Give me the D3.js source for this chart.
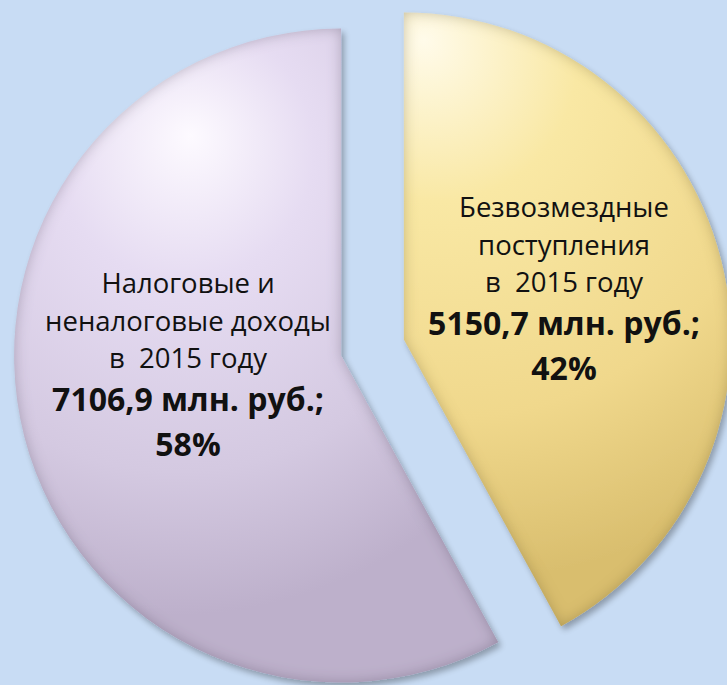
<!DOCTYPE html>
<html><head><meta charset="utf-8">
<script src="https://cdn.jsdelivr.net/npm/d3@7"></script>
<style>
html,body{margin:0;padding:0;background:#c8dcf4;}
svg{display:block;}
</style></head>
<body>
<svg id="chart" width="727" height="685"></svg>
<script>
// ---- data ----
const categories = ["Безвозмездные поступления", "Налоговые и неналоговые доходы"];
const values = [5150.7, 7106.9];
const percents = ["42%", "58%"];
const labelLines = [
  ["Безвозмездные", "поступления", "в  2015 году"],
  ["Налоговые и", "неналоговые доходы", "в  2015 году"]
];
const amountLabels = ["5150,7 млн. руб.;", "7106,9 млн. руб.;"];

// ---- layout ----
const W = 727, H = 685;
const cx = 372.5, cy = 347.5, R = 327, explode = 32.4;
const labelPos = [[564, 217], [188, 293]]; // first baseline of each label
const themes = [
  {hi:"#fffbea", mid:"#f9e8a4", lo:"#f0d88c", edge:"#d9be6e", rim:"#6f5d22"},
  {hi:"#fdfaff", mid:"#e6dcf2", lo:"#d4c9e1", edge:"#bdb0cb", rim:"#4a3e5c"}
];
// gradient focus relative to slice apex (local coords)
const gradGeo = [
  {cx: 60, cy: -230, fx: 20, fy: -300, r: 470},
  {cx: -170, cy: -170, fx: -150, fy: -220, r: 430}
];

const svg = d3.select("#chart");
const defs = svg.append("defs");

// drop shadow
const ds = defs.append("filter").attr("id","shadow").attr("x","-10%").attr("y","-10%").attr("width","130%").attr("height","130%");
ds.append("feGaussianBlur").attr("in","SourceAlpha").attr("stdDeviation",3).attr("result","b");
ds.append("feOffset").attr("in","b").attr("dx",3).attr("dy",4).attr("result","o");
ds.append("feComponentTransfer").attr("in","o").attr("result","s")
  .append("feFuncA").attr("type","linear").attr("slope",0.3);
const dm = ds.append("feMerge");
dm.append("feMergeNode").attr("in","s");
dm.append("feMergeNode").attr("in","SourceGraphic");

const pie = d3.pie().sort(null).value(d => d).startAngle(0).endAngle(2*Math.PI);
const arcs = pie(values);
const arc = d3.arc().innerRadius(0).outerRadius(R);

arcs.forEach((a, i) => {
  const th = themes[i], gg = gradGeo[i];
  const mid = (a.startAngle + a.endAngle) / 2;
  const ox = cx + explode * Math.sin(mid), oy = cy - explode * Math.cos(mid);

  // inner shadow (bevel rim) filter per slice
  const f = defs.append("filter").attr("id","inner"+i).attr("x","-5%").attr("y","-5%").attr("width","110%").attr("height","110%");
  f.append("feGaussianBlur").attr("in","SourceAlpha").attr("stdDeviation",7).attr("result","blur");
  f.append("feComposite").attr("in","SourceAlpha").attr("in2","blur").attr("operator","out").attr("result","rimA");
  f.append("feFlood").attr("flood-color",th.rim).attr("flood-opacity",0.5).attr("result","col");
  f.append("feComposite").attr("in","col").attr("in2","rimA").attr("operator","in").attr("result","rim");
  const fm = f.append("feMerge");
  fm.append("feMergeNode").attr("in","SourceGraphic");
  fm.append("feMergeNode").attr("in","rim");

  const g = defs.append("radialGradient").attr("id","grad"+i)
    .attr("gradientUnits","userSpaceOnUse")
    .attr("cx", gg.cx).attr("cy", gg.cy).attr("r", gg.r)
    .attr("fx", gg.fx).attr("fy", gg.fy);
  g.append("stop").attr("offset","0%").attr("stop-color",th.hi);
  g.append("stop").attr("offset","30%").attr("stop-color",th.mid);
  g.append("stop").attr("offset","70%").attr("stop-color",th.lo);
  g.append("stop").attr("offset","100%").attr("stop-color",th.edge);

  const grp = svg.append("g").attr("transform", `translate(${ox},${oy})`);
  const wrap = grp.append("g").attr("filter","url(#shadow)");
  wrap.append("path").attr("d", arc(a))
    .attr("fill", `url(#grad${i})`)
    .attr("filter", `url(#inner${i})`);

  // labels
  const [lx, ly] = labelPos[i];
  const t = svg.append("text").attr("text-anchor","middle")
    .style("white-space","pre")
    .attr("font-family","'Open Sans', sans-serif").attr("fill","#111");
  labelLines[i].forEach((s, k) => {
    t.append("tspan").attr("x", lx).attr("y", ly + k * 37.5)
      .attr("font-size", 27.5).text(s);
  });
  t.append("tspan").attr("x", lx).attr("y", ly + 2 * 37.5 + 43)
    .attr("font-size", 32).attr("font-weight","bold").text(amountLabels[i]);
  t.append("tspan").attr("x", lx).attr("y", ly + 2 * 37.5 + 43 + 45)
    .attr("font-size", 32).attr("font-weight","bold").text(percents[i]);
});
</script>
</body></html>
